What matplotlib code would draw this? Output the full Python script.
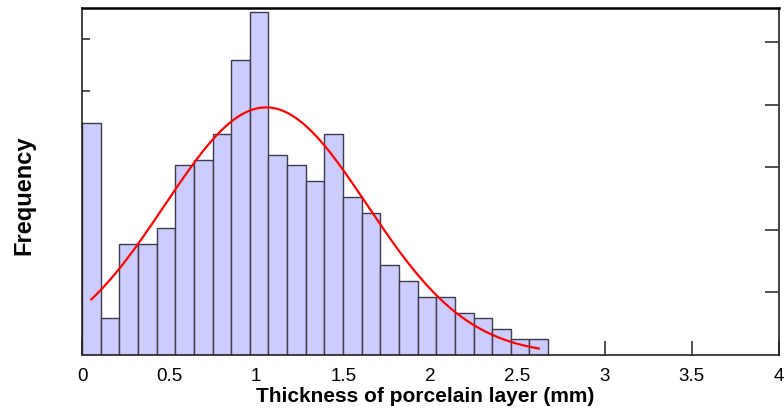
import numpy as np
import matplotlib
matplotlib.use("Agg")
import matplotlib.pyplot as plt

plt.rcParams['font.family'] = ['Liberation Sans', 'DejaVu Sans']

# histogram counts, 25 equal bins between 0 and the max thickness
counts = [44, 7, 21, 21, 24, 36, 37, 42, 56, 65, 38, 36, 33, 42, 30,
          27, 17, 14, 11, 11, 8, 7, 5, 3, 3]
max_thickness = 2.675

# normal fit of the thickness data (mm)
fit_mean = 1.056
fit_std = 0.58

xticks = [0, 0.5, 1, 1.5, 2, 2.5, 3, 3.5, 4]
xticklabels = ['0', '0.5', '1', '1.5', '2', '2.5', '3', '3.5', '4']

edges = np.linspace(0, max_thickness, len(counts) + 1)
width = edges[1] - edges[0]
centers = edges[:-1] + width / 2

fig = plt.figure(figsize=(7.84, 4.09), dpi=100)
ax = fig.add_axes([0.1046, 0.132, 0.889, 0.8484])

ax.bar(edges[:-1], counts, width=width, align='edge',
       color='#ccccff', edgecolor='#3c3c4c', linewidth=1.0, zorder=1)

# fitted curve scaled to the histogram area
xs = np.linspace(centers[0], centers[-1], 300)
area = sum(counts) * width
ys = area / (fit_std * np.sqrt(2 * np.pi)) * np.exp(-(xs - fit_mean) ** 2 / (2 * fit_std ** 2))
ax.plot(xs, ys, color='#ff0000', linewidth=1.6, zorder=3)

ax.set_xlim(0, 4)
ax.set_ylim(0, 65.8)
ax.set_axisbelow(True)

ax.set_xticks(xticks)
ax.set_xticklabels(xticklabels, fontsize=13.5)
ax.set_yticks([10, 20, 30, 40, 50, 60])
ax.tick_params(axis='x', direction='in', length=10, width=1.2, pad=9, color='#333333')
ax.tick_params(axis='y', direction='in', length=6, width=1.2, labelleft=False, color='#333333')

for s in ax.spines.values():
    s.set_linewidth(1.2)
    s.set_color('#222222')
ax.spines['top'].set_linewidth(1.8)
ax.spines['top'].set_color('black')

# right-hand scale, ticks only
ax2 = ax.twinx()
ax2.set_ylim(0, 5.543)
ax2.set_yticks([1, 2, 3, 4, 5])
ax2.tick_params(axis='y', direction='in', length=10, width=1.2, labelright=False, color='#333333')
for s in ax2.spines.values():
    s.set_visible(False)

ax.set_xlabel('Thickness of porcelain layer (mm)', fontsize=15, fontweight='bold')
ax.xaxis.set_label_coords(0.492, -0.092)
ax.set_ylabel('Frequency', fontsize=17, fontweight='bold')
ax.yaxis.set_label_coords(-0.067, 0.461)

fig.savefig('out.png', dpi=100)
